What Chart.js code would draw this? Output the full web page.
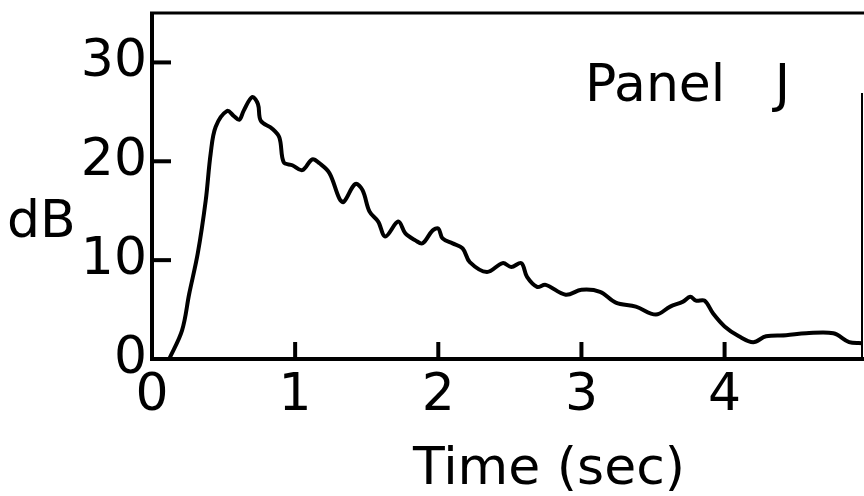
<!DOCTYPE html>
<html>
<head>
<meta charset="utf-8">
<script src="https://cdn.jsdelivr.net/npm/chart.js@4.4.1/dist/chart.umd.min.js"></script>
<style>
    html, body { margin: 0; padding: 0; background: #fff; }
    #wrap { width: 864px; height: 496px; }
</style>
</head>
<body>
<div id="wrap"><canvas id="panelChart" width="864" height="496"></canvas></div>
<script>
// time (sec) and level (dB)
const timeSec = [0.12, 0.21, 0.26, 0.32, 0.375, 0.41, 0.445, 0.525, 0.57, 0.61, 0.64, 0.70, 0.74, 0.76,
    0.84, 0.89, 0.92, 0.98, 1.05, 1.12, 1.17, 1.24, 1.31, 1.34, 1.42, 1.47, 1.52, 1.58, 1.63, 1.72,
    1.77, 1.84, 1.89, 1.96, 2.0, 2.03, 2.10, 2.17, 2.22, 2.34, 2.45, 2.51, 2.58, 2.62, 2.69, 2.75,
    2.89, 3.0, 3.13, 3.24, 3.38, 3.52, 3.62, 3.71, 3.76, 3.80, 3.86, 3.92, 4.0, 4.10, 4.20, 4.29,
    4.43, 4.57, 4.76, 4.87, 4.96];
const levelDb = [0, 2.9, 6.6, 10.7, 16.0, 20.8, 23.5, 25.1, 24.6, 24.2, 25.1, 26.5, 25.8, 24.1,
    23.3, 22.4, 19.9, 19.6, 19.1, 20.2, 19.8, 18.8, 16.2, 15.9, 17.7, 17.1, 14.9, 13.9, 12.4, 13.9,
    12.7, 12.0, 11.7, 13.0, 13.2, 12.2, 11.7, 11.2, 9.8, 8.8, 9.7, 9.3, 9.7, 8.3, 7.3, 7.5,
    6.5, 7.0, 6.8, 5.7, 5.3, 4.5, 5.3, 5.8, 6.3, 5.9, 5.9, 4.6, 3.3, 2.3, 1.7, 2.3,
    2.4, 2.6, 2.6, 1.7, 1.6];

const xTickValues = [0, 1, 2, 3, 4];
const yTickValues = [0, 10, 20, 30];
const panelLabel = 'Panel   J';
const xTitle = 'Time (sec)';
const yTitle = 'dB';

const FONT = '"DejaVu Sans", sans-serif';

// frame, inward tick marks and the free text
const framePlugin = {
    id: 'frame',
    afterDraw(chart) {
        const { ctx, chartArea: a, scales } = chart;
        ctx.save();
        ctx.strokeStyle = '#000';
        ctx.lineCap = 'butt';

        ctx.lineWidth = 4;
        ctx.beginPath();
        ctx.moveTo(a.left, a.top);
        ctx.lineTo(a.left, a.bottom);
        ctx.lineTo(a.right + 2, a.bottom);
        ctx.stroke();

        ctx.lineWidth = 3;
        ctx.beginPath();
        ctx.moveTo(a.left - 2, a.top);
        ctx.lineTo(a.right + 2, a.top);
        ctx.stroke();

        ctx.lineWidth = 2;
        ctx.beginPath();
        ctx.moveTo(a.right, a.top + 80);
        ctx.lineTo(a.right, a.bottom);
        ctx.stroke();

        ctx.lineWidth = 4;
        yTickValues.forEach(v => {
            if (v === 0) return;
            const y = scales.y.getPixelForValue(v);
            ctx.beginPath();
            ctx.moveTo(a.left, y);
            ctx.lineTo(a.left + 19, y);
            ctx.stroke();
        });
        xTickValues.forEach(v => {
            if (v === 0) return;
            const x = scales.x.getPixelForValue(v);
            ctx.beginPath();
            ctx.moveTo(x, a.bottom);
            ctx.lineTo(x, a.bottom - 17);
            ctx.stroke();
        });

        ctx.fillStyle = '#000';
        ctx.font = '52px ' + FONT;
        ctx.textBaseline = 'alphabetic';
        ctx.textAlign = 'left';
        ctx.fillText(panelLabel, 585, 101);
        ctx.fillText(yTitle, 7, 237);
        ctx.textAlign = 'center';
        ctx.fillText(xTitle, 549, 484);
        ctx.restore();
    }
};

const ctx = document.getElementById('panelChart').getContext('2d');
new Chart(ctx, {
    type: 'line',
    data: {
        datasets: [{
            data: timeSec.map((t, i) => ({ x: t, y: levelDb[i] })),
            borderColor: '#000',
            borderWidth: 4,
            pointRadius: 0,
            tension: 0.35,
            fill: false
        }]
    },
    options: {
        responsive: false,
        animation: false,
        layout: { padding: { top: 13, right: 2, left: 0, bottom: 0 } },
        plugins: { legend: { display: false }, tooltip: { enabled: false } },
        scales: {
            x: {
                type: 'linear',
                min: 0,
                max: 4.96,
                afterBuildTicks: s => { s.ticks = xTickValues.map(v => ({ value: v })); },
                afterFit: s => {
                    s.height = 137;
                    s.paddingLeft = 0;
                    s.paddingRight = 0;
                },
                grid: { display: false, drawTicks: false },
                border: { display: false },
                ticks: {
                    padding: 6,
                    color: '#000',
                    font: { family: FONT, size: 52 },
                    maxRotation: 0,
                    autoSkip: false
                }
            },
            y: {
                min: 0,
                max: 35,
                afterBuildTicks: s => { s.ticks = yTickValues.map(v => ({ value: v })); },
                afterFit: s => {
                    s.width = 152;
                    s.paddingTop = 0;
                    s.paddingBottom = 0;
                },
                grid: { display: false, drawTicks: false },
                border: { display: false },
                ticks: {
                    padding: 5,
                    color: '#000',
                    font: { family: FONT, size: 52 }
                }
            }
        }
    },
    plugins: [framePlugin]
});
</script>
</body>
</html>
